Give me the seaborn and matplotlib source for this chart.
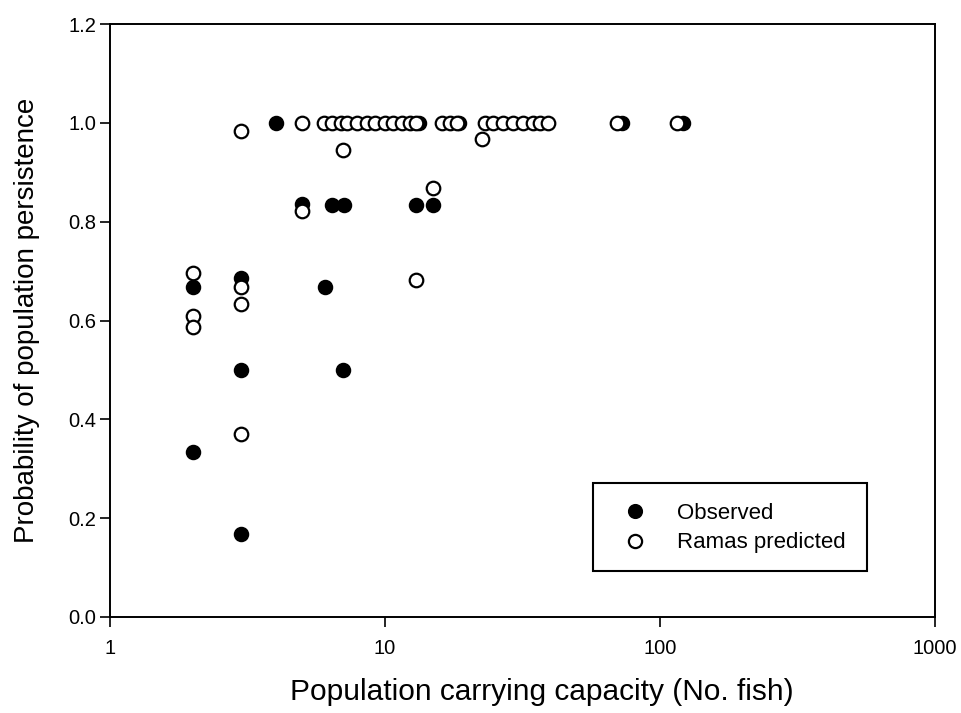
import matplotlib
matplotlib.use("Agg")
import matplotlib.pyplot as plt
import seaborn as sns
import pandas as pd
from matplotlib.lines import Line2D
from matplotlib.patches import Rectangle

# ---- data ----
observed_x = [2, 2, 3, 3, 3, 4, 5, 6.4, 7.1, 6.05, 7.05, 13.0, 15.0, 13.3, 18.6, 72.8, 121]
observed_y = [0.667, 0.333, 0.686, 0.5, 0.167, 1.0, 0.835, 0.833, 0.833, 0.667, 0.5,
              0.833, 0.833, 1.0, 1.0, 1.0, 1.0]

predicted_x = [2, 2, 2, 3, 3, 3, 3, 5, 5, 7.04, 13.0, 14.9, 22.5,
               6.0, 6.4, 6.9, 7.3, 7.9, 8.6, 9.2, 10.0, 10.7, 11.5, 12.3, 13.0,
               16.1, 17.2, 18.2, 23.1, 24.7, 26.9, 29.2, 31.8, 34.5, 36.6, 39.2,
               69.8, 115]
predicted_y = [0.697, 0.609, 0.587, 0.984, 0.667, 0.634, 0.370, 1.0, 0.822, 0.945, 0.682,
               0.869, 0.968,
               1.0, 1.0, 1.0, 1.0, 1.0, 1.0, 1.0, 1.0, 1.0, 1.0, 1.0, 1.0,
               1.0, 1.0, 1.0, 1.0, 1.0, 1.0, 1.0, 1.0, 1.0, 1.0, 1.0,
               1.0, 1.0]

series_names = ["Observed", "Ramas predicted"]
x_ticks = [1, 10, 100, 1000]
x_tick_labels = ["1", "10", "100", "1000"]
y_ticks = [0.0, 0.2, 0.4, 0.6, 0.8, 1.0, 1.2]

x_label = "Population carrying capacity (No. fish)"
y_label = "Probability of population persistence"

obs_df = pd.DataFrame({"K": observed_x, "P": observed_y})
pred_df = pd.DataFrame({"K": predicted_x, "P": predicted_y})

sns.set_style("white")
plt.rcParams["font.family"] = ["Liberation Sans", "DejaVu Sans"]

W, H = 962, 713
AX_L, AX_R, AX_T, AX_B = 110, 935, 24, 617
fig = plt.figure(figsize=(W / 100, H / 100), dpi=100)
ax = fig.add_axes([AX_L / W, 1 - AX_B / H, (AX_R - AX_L) / W, (AX_B - AX_T) / H])


def ax_x(px):
    return (px - AX_L) / (AX_R - AX_L)


def ax_y(py):
    return (AX_B - py) / (AX_B - AX_T)


msize = 95
sns.scatterplot(data=obs_df, x="K", y="P", ax=ax, s=msize, color="black",
                edgecolor="black", linewidth=1.4, zorder=3)
sns.scatterplot(data=pred_df, x="K", y="P", ax=ax, s=msize, facecolor="white",
                edgecolor="black", linewidth=1.6, zorder=4)

ax.set_xscale("log")
ax.set_xlim(1, 1000)
ax.set_ylim(0, 1.2)
ax.set_xticks(x_ticks)
ax.set_xticklabels(x_tick_labels)
ax.set_yticks(y_ticks)
ax.set_yticklabels([f"{v:.1f}" for v in y_ticks])
ax.minorticks_off()
ax.xaxis.set_minor_locator(matplotlib.ticker.NullLocator())

for sp in ax.spines.values():
    sp.set_visible(True)
    sp.set_color("black")
    sp.set_linewidth(1.4)

ax.tick_params(axis="both", which="major", direction="out", length=7, width=1.2,
               colors="black", labelsize=14.5, left=True, bottom=True, top=False, right=False)
ax.tick_params(axis="x", pad=9)
ax.tick_params(axis="y", pad=3)

ax.set_xlabel(x_label, fontsize=21.5, labelpad=14, color="black")
ax.xaxis.label.set_x(ax_x(542))
ax.set_ylabel(y_label, fontsize=20, labelpad=20, color="black")

# legend frame
ax.add_patch(Rectangle((ax_x(593), ax_y(571)), ax_x(867) - ax_x(593), ax_y(483) - ax_y(571),
                       transform=ax.transAxes, facecolor="white", edgecolor="black",
                       linewidth=1.5, zorder=5))

handles = [
    Line2D([], [], marker="o", linestyle="none", markersize=9.5, markerfacecolor="black",
           markeredgecolor="black", markeredgewidth=1.4),
    Line2D([], [], marker="o", linestyle="none", markersize=9.5, markerfacecolor="white",
           markeredgecolor="black", markeredgewidth=1.6),
]
leg = ax.legend(handles, series_names, loc="center left",
                bbox_to_anchor=(ax_x(613), ax_y(528)),
                fontsize=16, frameon=False, borderpad=0, handletextpad=0.9,
                borderaxespad=0, labelspacing=0.4, handlelength=2.0)
leg.set_zorder(6)
for t in leg.get_texts():
    t.set_color("black")

fig.savefig("out.png", dpi=100)
